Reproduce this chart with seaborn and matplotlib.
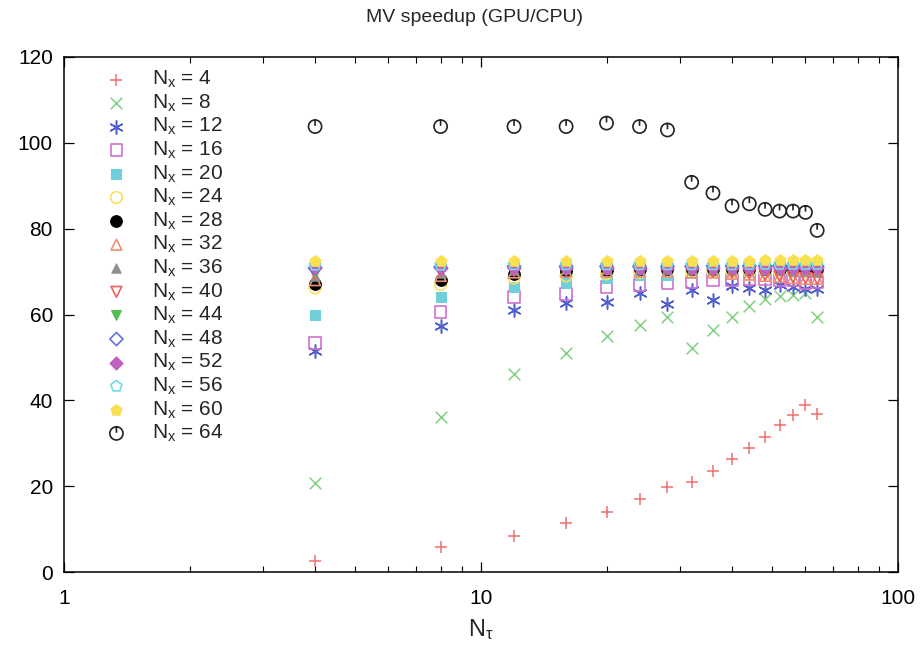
import numpy as np
import pandas as pd
import matplotlib
matplotlib.use("Agg")
import matplotlib.pyplot as plt
from matplotlib.path import Path
import seaborn as sns

# ---------------- data ----------------
n_tau = [4, 8, 12, 16, 20, 24, 28, 32, 36, 40, 44, 48, 52, 56, 60, 64]
nx_values = [4, 8, 12, 16, 20, 24, 28, 32, 36, 40, 44, 48, 52, 56, 60, 64]

speedup_nx4 = [2.5, 5.8, 8.4, 11.5, 14.0, 17.0, 19.8, 21.0, 23.6, 26.4, 28.9, 31.5, 34.3, 36.6, 38.9, 36.8]
speedup_nx8 = [20.7, 36.1, 46.2, 51.1, 54.9, 57.5, 59.4, 52.2, 56.4, 59.5, 61.9, 63.6, 64.2, 64.6, 65.0, 59.4]
speedup_nx12 = [51.5, 57.3, 61.0, 62.7, 62.9, 65.0, 62.5, 65.7, 63.4, 66.6, 66.2, 65.8, 66.8, 66.3, 66.0, 66.0]
speedup_nx16 = [53.4, 60.6, 64.1, 64.8, 66.4, 66.9, 67.4, 67.5, 68.0, 68.0, 68.3, 68.3, 68.0, 68.0, 67.4, 67.6]
speedup_nx20 = [59.9, 64.1, 66.4, 67.4, 68.5, 69.2, 69.3, 69.6, 69.8, 70.0, 70.2, 70.3, 70.4, 70.5, 70.5, 70.5]
speedup_nx24 = [66.2, 67.0, 68.5, 69.0, 69.5, 69.8, 70.0, 70.0, 70.0, 70.0, 70.0, 70.0, 70.0, 70.0, 70.0, 70.0]
speedup_nx28 = [67.0, 68.1, 69.5, 70.2, 70.4, 70.5, 70.5, 70.5, 70.5, 70.6, 70.6, 70.6, 70.6, 70.6, 70.6, 70.6]
speedup_nx32 = [68.0, 69.0, 69.8, 70.0, 70.0, 70.0, 70.0, 69.8, 69.8, 69.5, 69.3, 69.0, 68.8, 68.5, 68.3, 68.3]
speedup_nx36 = [69.0, 69.6, 70.3, 70.5, 70.6, 70.6, 70.7, 70.6, 70.6, 70.5, 70.5, 70.4, 70.3, 70.2, 70.1, 70.0]
speedup_nx40 = [69.5, 70.0, 70.2, 70.4, 70.5, 70.5, 70.5, 70.3, 70.0, 69.8, 69.5, 69.2, 69.0, 68.7, 68.5, 68.3]
speedup_nx44 = [70.0, 70.5, 70.8, 70.9, 71.0, 71.0, 71.0, 71.0, 71.0, 71.0, 71.0, 71.0, 70.9, 70.9, 70.8, 70.8]
speedup_nx48 = [70.8, 71.0, 71.2, 71.2, 71.2, 71.2, 71.2, 71.2, 71.3, 71.3, 71.3, 71.3, 71.3, 71.3, 71.2, 71.2]
speedup_nx52 = [71.0, 70.8, 70.8, 70.8, 70.8, 70.8, 70.8, 70.8, 70.8, 70.8, 70.8, 70.9, 70.9, 70.9, 70.9, 70.9]
speedup_nx56 = [71.5, 71.5, 71.6, 71.6, 71.6, 71.6, 71.6, 71.6, 71.6, 71.6, 71.7, 71.7, 71.7, 71.7, 71.7, 71.7]
speedup_nx60 = [72.5, 72.4, 72.4, 72.4, 72.4, 72.4, 72.4, 72.4, 72.4, 72.5, 72.5, 72.6, 72.6, 72.6, 72.6, 72.6]
speedup_nx64 = [103.8, 103.8, 103.8, 103.8, 104.6, 103.8, 103.0, 90.8, 88.3, 85.3, 85.8, 84.5, 84.1, 84.1, 83.8, 79.6]

x_ticks = [1, 10, 100]
x_tick_labels = ["1", "10", "100"]
y_ticks = [0, 20, 40, 60, 80, 100, 120]

series = [speedup_nx4, speedup_nx8, speedup_nx12, speedup_nx16, speedup_nx20,
          speedup_nx24, speedup_nx28, speedup_nx32, speedup_nx36, speedup_nx40,
          speedup_nx44, speedup_nx48, speedup_nx52, speedup_nx56, speedup_nx60,
          speedup_nx64]

df = pd.concat([pd.DataFrame({"tau": n_tau, "speedup": vals, "Nx": nx})
                for nx, vals in zip(nx_values, series)], ignore_index=True)

# ---------------- styles ----------------
circle = Path.unit_circle()
stem = Path([(0.0, 0.1), (0.0, 1.0)], [Path.MOVETO, Path.LINETO])
power_marker = Path.make_compound_path(circle, stem)

# (marker, color, filled)
styles = [
    ("+", "#f07070", True),
    ("x", "#80d080", True),
    ((6, 2, 0), "#4f5fd0", True),
    ("s", "#d070d0", False),
    ("s", "#6fd0dc", True),
    ("o", "#f8e060", False),
    ("o", "#000000", True),
    ("^", "#f09070", False),
    ("^", "#909090", True),
    ("v", "#f06060", False),
    ("v", "#50c050", True),
    ("D", "#6070e0", False),
    ("D", "#c060c0", True),
    ("p", "#70dce6", False),
    ("p", "#f8e050", True),
    (power_marker, "#222222", False),
]
sizes = [80, 70, 90, 70, 60, 70, 70, 60, 45, 60, 50, 45, 45, 70, 70, 90]

sns.set_style("ticks")
plt.rcParams["font.family"] = ["Liberation Sans", "DejaVu Sans"]
plt.rcParams["mathtext.default"] = "regular"

fig = plt.figure(figsize=(9.24, 6.46), dpi=100)
ax = fig.add_axes([64 / 924, 1 - 572 / 646, (898 - 64) / 924, (572 - 57) / 646])

for nx, (mk, col, filled), s in zip(nx_values, styles, sizes):
    sub = df[df["Nx"] == nx]
    unfillable = mk in ("+", "x") or isinstance(mk, tuple)
    if unfillable:
        kw = dict(facecolor=col, linewidth=1.1)
    elif filled:
        kw = dict(facecolor=col, edgecolor=col, linewidth=0.8)
    else:
        kw = dict(facecolor="none", edgecolor=col, linewidth=1.2)
    sns.scatterplot(data=sub, x="tau", y="speedup", marker=mk, s=s, ax=ax,
                    label=f"$N_x$ = {nx}", zorder=3, **kw)

ax.set_xscale("log")
ax.set_xlim(1, 100)
ax.set_ylim(0, 120)
ax.set_xticks(x_ticks)
ax.set_xticklabels(x_tick_labels)
ax.set_yticks(y_ticks)
ax.tick_params(axis="both", which="both", direction="in", top=True, right=True,
               labelsize=15, colors="black")
ax.tick_params(axis="y", which="major", length=7, width=0.9, pad=8)
ax.tick_params(axis="x", which="major", length=7, width=0.9, pad=12)
ax.tick_params(axis="x", which="minor", length=4, width=0.8)
ax.tick_params(axis="y", which="minor", left=False, right=False)
for sp in ax.spines.values():
    sp.set_visible(True)
    sp.set_color("black")
    sp.set_linewidth(1.1)

ax.set_xlabel(r"$N_\tau$", fontsize=17, labelpad=7)
ax.set_ylabel("")
fig.text(474 / 924, 1 - 18 / 646, "MV speedup (GPU/CPU)", ha="center", va="center",
         fontsize=14)

leg = ax.legend(loc="upper left", bbox_to_anchor=(106 / 924, 1 - 69 / 646),
                bbox_transform=fig.transFigure, frameon=False, fontsize=15,
                borderpad=0, borderaxespad=0, handlelength=1.0, handletextpad=1.2,
                labelspacing=0.11, scatterpoints=1)

fig.savefig("out.png", dpi=100)
